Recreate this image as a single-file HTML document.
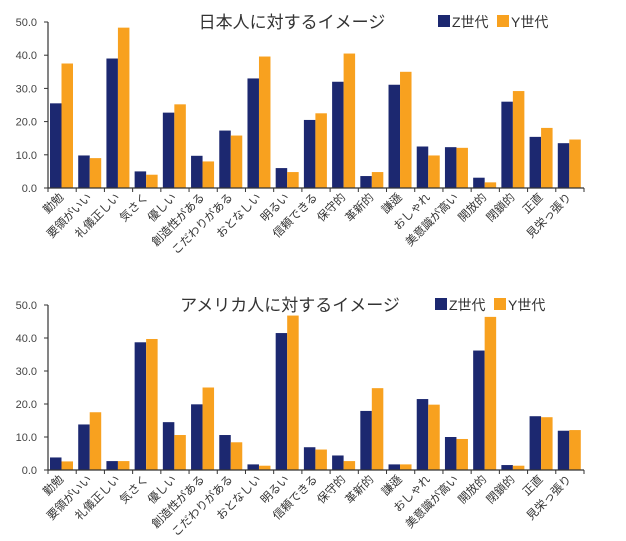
<!DOCTYPE html>
<html><head><meta charset="utf-8"><style>
body{margin:0;background:#fff;width:626px;height:541px;overflow:hidden}
svg{display:block}
text{font-family:"Liberation Sans","Noto Sans CJK JP",sans-serif}
</style></head><body>
<svg id="s" width="626" height="541" xmlns="http://www.w3.org/2000/svg"></svg>
<script>
const cats=["勤勉","要領がいい","礼儀正しい","気さく","優しい","創造性がある","こだわりがある","おとなしい","明るい","信頼できる","保守的","革新的","謙遜","おしゃれ","美意識が高い","開放的","閉鎖的","正直","見栄っ張り"];
const A=[[25.5,37.5],[9.8,9],[39,48.3],[5,4],[22.7,25.2],[9.7,8],[17.3,15.8],[33,39.6],[6,4.8],[20.5,22.5],[32,40.5],[3.6,4.8],[31.1,35],[12.5,9.8],[12.3,12.1],[3.1,1.7],[26,29.2],[15.4,18.1],[13.5,14.6]];
const B=[[3.8,2.6],[13.8,17.5],[2.7,2.7],[38.7,39.7],[14.5,10.6],[19.9,25],[10.6,8.4],[1.7,1.3],[41.5,46.8],[6.9,6.2],[4.4,2.7],[17.9,24.8],[1.7,1.7],[21.5,19.8],[10,9.4],[36.2,46.4],[1.5,1.3],[16.3,16],[11.9,12.1]];
let h="";
function chart(d,top,bot,title,tx,lx){
 const x0=48,x1=584,w=(x1-x0)/19,sc=(bot-top)/50;
 for(let i=0;i<=5;i++){const y=bot-i*10*sc;h+=`<text x="37" y="${y+4}" font-size="11" fill="#444" text-anchor="end">${(i*10).toFixed(1)}</text><line x1="44" x2="48" y1="${y}" y2="${y}" stroke="#333"/>`;}
 d.forEach((v,i)=>{const bx=x0+i*w+2;
  h+=`<rect x="${bx}" y="${bot-v[0]*sc}" width="11.5" height="${v[0]*sc}" fill="#1c2870"/>`;
  h+=`<rect x="${bx+11.5}" y="${bot-v[1]*sc}" width="11.5" height="${v[1]*sc}" fill="#f8a11f"/>`;
  const cx=x0+i*w+w/2+2;
  h+=`<text transform="translate(${cx},${bot+10}) rotate(-45)" font-size="11.5" fill="#333" text-anchor="end">${cats[i]}</text>`;
 });
 for(let i=0;i<=19;i++){const x=x0+i*w;h+=`<line x1="${x}" x2="${x}" y1="${bot}" y2="${bot+4}" stroke="#333"/>`;}
 h+=`<line x1="48" x2="48" y1="${top}" y2="${bot}" stroke="#333" stroke-width="1.2"/><line x1="48" x2="${x1}" y1="${bot}" y2="${bot}" stroke="#333" stroke-width="1.2"/>`;
 h+=`<text x="${tx}" y="${top+6}" font-size="17" fill="#333" text-anchor="middle">${title}</text>`;
 h+=`<rect x="${lx}" y="${top-7}" width="12" height="12" fill="#1c2870"/><text x="${lx+14}" y="${top+5}" font-size="14" fill="#333">Z世代</text>`;
 h+=`<rect x="${lx+59}" y="${top-7}" width="12" height="12" fill="#f8a11f"/><text x="${lx+73}" y="${top+5}" font-size="14" fill="#333">Y世代</text>`;
}
chart(A,22,188,"日本人に対するイメージ",292,438);
chart(B,305,470,"アメリカ人に対するイメージ",290,435);
document.getElementById("s").innerHTML=h;
</script>
</body></html>
